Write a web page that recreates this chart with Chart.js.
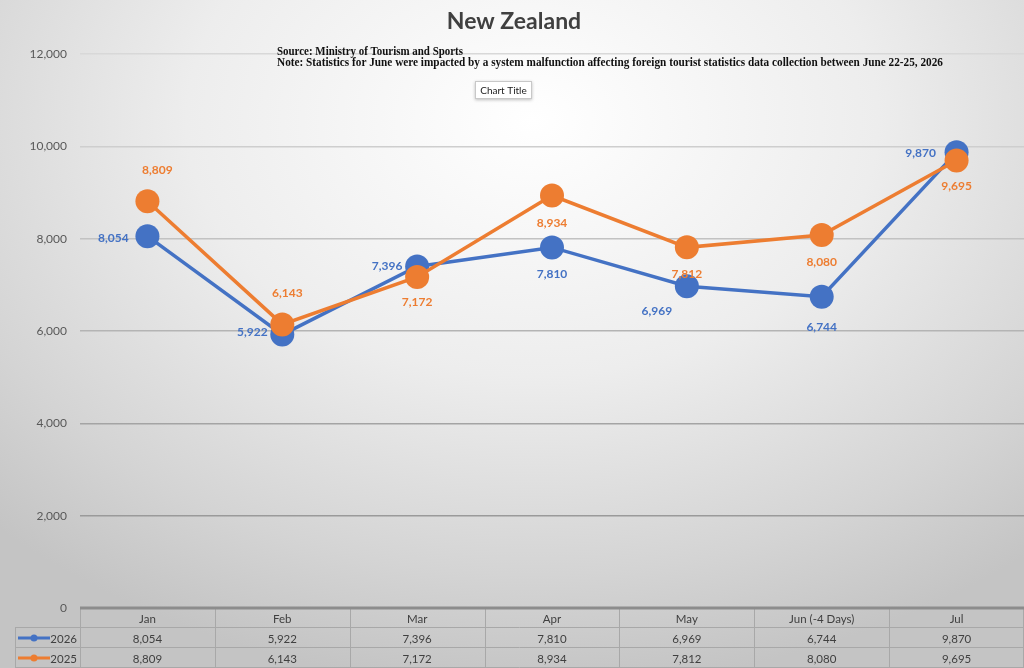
<!DOCTYPE html>
<html>
<head>
<meta charset="utf-8">
<script src="https://cdn.jsdelivr.net/npm/chart.js@4"></script>
<style>
  html, body { margin: 0; padding: 0; }
  body {
    width: 1024px; height: 668px; overflow: hidden;
    background: radial-gradient(ellipse 75% 85% at 52% 18%, #ffffff 0%, #ededed 45%, #d4d4d4 80%, #c4c4c4 100%);
  }
  #wrap { position: relative; width: 1024px; height: 668px; }
</style>
</head>
<body>
<div id="wrap"><canvas id="lineChart"></canvas></div>
<script>
const meses = ["Jan", "Feb", "Mar", "Apr", "May", "Jun (-4 Days)", "Jul"];
const visitantes2026 = [8054, 5922, 7396, 7810, 6969, 6744, 9870];
const visitantes2025 = [8809, 6143, 7172, 8934, 7812, 8080, 9695];
const ticksY = [0, 2000, 4000, 6000, 8000, 10000, 12000];

const azul = '#4472C4';
const laranja = '#ED7D31';
const fonte = 'Lato, "Open Sans", sans-serif';

// deslocamento dos rotulos (px) em relacao ao ponto
const deslocamentos = [
    [[-34, 2], [-30, -2], [-30, 0], [0, 27], [-30, 25], [0, 30], [-36, 1]],
    [[10, -31], [5, -31], [0, 25], [0, 28], [0, 27], [0, 27], [0, 26]]
];

const fmt = v => v.toLocaleString('en-US');

// Textos, rotulos e tabela de dados
const extras = {
    id: 'extras',
    afterDatasetsDraw(chart) {
        const ctx = chart.ctx;
        ctx.save();
        ctx.font = 'bold 12px ' + fonte;
        ctx.textAlign = 'center';
        ctx.textBaseline = 'middle';
        chart.data.datasets.forEach((ds, i) => {
            const meta = chart.getDatasetMeta(i);
            ctx.fillStyle = ds.borderColor;
            meta.data.forEach((pt, j) => {
                const d = deslocamentos[i][j];
                ctx.fillText(fmt(ds.data[j]), pt.x + d[0], pt.y + d[1]);
            });
        });
        ctx.restore();
    },
    afterDraw(chart) {
        const ctx = chart.ctx;
        const area = chart.chartArea;
        const x = chart.scales.x;
        ctx.save();

        // titulo
        ctx.fillStyle = '#404040';
        ctx.font = 'bold 23px ' + fonte;
        ctx.textAlign = 'center';
        ctx.textBaseline = 'middle';
        ctx.fillText('New Zealand', 514, 22);

        // fonte / nota
        ctx.fillStyle = '#111';
        ctx.font = 'bold 11.5px "Liberation Serif", serif';
        ctx.textAlign = 'left';
        ctx.fillText('Source: Ministry of Tourism and Sports', 277, 52, 186);
        ctx.fillText('Note: Statistics for June were impacted by a system malfunction affecting foreign tourist statistics data collection between June 22-25, 2026', 277, 63, 666);

        // caixa "Chart Title"
        ctx.shadowColor = 'rgba(0,0,0,0.25)';
        ctx.shadowBlur = 3;
        ctx.shadowOffsetY = 1;
        ctx.fillStyle = '#ffffff';
        ctx.fillRect(475, 81, 57, 18);
        ctx.shadowColor = 'transparent';
        ctx.strokeStyle = '#c8c8c8';
        ctx.lineWidth = 1;
        ctx.strokeRect(475.5, 81.5, 56, 17);
        ctx.fillStyle = '#222';
        ctx.font = '10px ' + fonte;
        ctx.textAlign = 'center';
        ctx.fillText('Chart Title', 503.5, 90.5);

        // tabela de dados
        const top = area.bottom;
        const rowH = 20;
        const n = meses.length;
        const passo = (x.getPixelForValue(1) - x.getPixelForValue(0));
        const bordas = [];
        for (let i = 0; i <= n; i++) bordas.push(x.getPixelForValue(0) - passo / 2 + i * passo);

        ctx.strokeStyle = '#a8a8a8';
        ctx.lineWidth = 1;
        ctx.beginPath();
        for (let r = 1; r <= 3; r++) {
            const y = Math.round(top + r * rowH) - 0.5;
            ctx.moveTo(15, y);
            ctx.lineTo(area.right, y);
        }
        bordas.forEach(bx => {
            const xx = Math.min(Math.round(bx), 1023) + 0.5;
            ctx.moveTo(xx, top);
            ctx.lineTo(xx, top + 3 * rowH);
        });
        ctx.moveTo(15.5, top + rowH);
        ctx.lineTo(15.5, top + 3 * rowH);
        ctx.stroke();

        // linha do zero (borda superior da tabela)
        ctx.strokeStyle = '#8c8c8c';
        ctx.lineWidth = 3;
        ctx.beginPath();
        ctx.moveTo(area.left, top);
        ctx.lineTo(area.right, top);
        ctx.stroke();

        ctx.fillStyle = '#404040';
        ctx.font = '11.5px ' + fonte;
        ctx.textAlign = 'center';
        ctx.textBaseline = 'middle';
        meses.forEach((m, j) => {
            const cx = x.getPixelForValue(j);
            ctx.fillText(m, cx, top + rowH * 0.5 + 1);
            ctx.fillText(fmt(visitantes2026[j]), cx, top + rowH * 1.5 + 1);
            ctx.fillText(fmt(visitantes2025[j]), cx, top + rowH * 2.5 + 1);
        });

        // chaves da legenda
        [[azul, '2026'], [laranja, '2025']].forEach((k, r) => {
            const cy = top + rowH * (r + 1.5);
            ctx.strokeStyle = k[0];
            ctx.lineWidth = 3;
            ctx.beginPath();
            ctx.moveTo(18, cy);
            ctx.lineTo(50, cy);
            ctx.stroke();
            ctx.fillStyle = k[0];
            ctx.beginPath();
            ctx.arc(34, cy, 3.5, 0, Math.PI * 2);
            ctx.fill();
            ctx.fillStyle = '#404040';
            ctx.textAlign = 'right';
            ctx.fillText(k[1], 77, cy + 1);
        });
        ctx.restore();
    }
};

const coresGrade = ['rgba(0,0,0,0)', '#9a9a9a', '#a4a4a4', '#b4b4b4', '#c2c2c2', '#cecece', '#d8d8d8'];

const lineContext = document.getElementById('lineChart').getContext('2d');

new Chart(lineContext, {
    type: 'line',
    data: {
        labels: meses,
        datasets: [{
            label: '2026',
            data: visitantes2026,
            borderColor: azul,
            backgroundColor: azul,
            borderWidth: 3.5,
            pointRadius: 12,
            pointBorderWidth: 0,
            pointHoverRadius: 12,
            tension: 0,
            clip: false,
            order: 1
        }, {
            label: '2025',
            data: visitantes2025,
            borderColor: laranja,
            backgroundColor: laranja,
            borderWidth: 3.5,
            pointRadius: 12,
            pointBorderWidth: 0,
            pointHoverRadius: 12,
            tension: 0,
            clip: false,
            order: 0
        }]
    },
    options: {
        responsive: true,
        maintainAspectRatio: false,
        animation: false,
        events: [],
        layout: { autoPadding: false, padding: { top: 54, bottom: 60, left: 0, right: 0 } },
        plugins: {
            legend: { display: false },
            title: { display: false },
            tooltip: { enabled: false }
        },
        scales: {
            x: {
                display: false,
                offset: true
            },
            y: {
                min: 0,
                max: 12000,
                afterBuildTicks(axis) {
                    axis.ticks = ticksY.map(v => ({ value: v }));
                },
                afterFit(axis) { axis.width = 80; },
                border: { display: false },
                grid: {
                    drawTicks: false,
                    lineWidth: 1.5,
                    color: c => coresGrade[c.index] || '#ccc'
                },
                ticks: {
                    padding: 13,
                    color: '#595959',
                    font: { size: 12, family: fonte },
                    callback: v => fmt(v)
                }
            }
        }
    },
    plugins: [extras]
});
</script>
</body>
</html>
